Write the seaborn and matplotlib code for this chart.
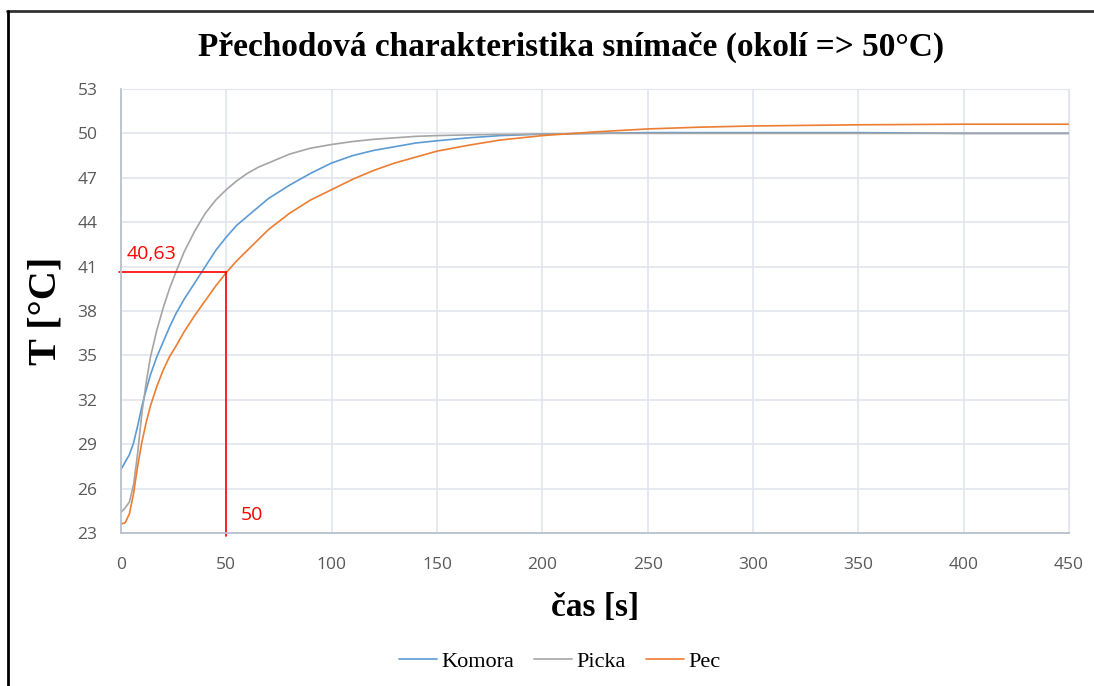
import pandas as pd
import seaborn as sns
import matplotlib.pyplot as plt
from matplotlib.lines import Line2D

# values
time_s = [0, 2, 4, 6, 8, 10, 12, 14, 17, 20, 23, 26, 30, 35, 40, 45, 50, 55, 60,
          65, 70, 80, 90, 100, 110, 120, 130, 140, 150, 165, 180, 200, 225, 250,
          275, 300, 350, 400, 450]
komora = [27.3, 27.8, 28.3, 29.1, 30.3, 31.6, 32.7, 33.7, 34.9, 35.9, 36.9, 37.8,
          38.8, 39.9, 41.0, 42.1, 43.0, 43.8, 44.4, 45.0, 45.6, 46.5, 47.3, 48.0,
          48.5, 48.85, 49.1, 49.35, 49.5, 49.7, 49.85, 49.95, 50.0, 50.05, 50.05,
          50.05, 50.05, 50.0, 50.0]
picka = [24.4, 24.7, 25.1, 26.3, 28.5, 31.2, 33.2, 34.9, 36.7, 38.2, 39.5, 40.6,
         42.0, 43.4, 44.6, 45.5, 46.2, 46.8, 47.3, 47.7, 48.0, 48.6, 49.0, 49.25,
         49.45, 49.6, 49.7, 49.8, 49.85, 49.9, 49.93, 49.95, 50.0, 50.0, 50.0,
         50.0, 50.0, 50.0, 50.0]
pec = [23.6, 23.7, 24.3, 25.7, 27.6, 29.2, 30.5, 31.6, 32.9, 34.0, 34.9, 35.6,
       36.6, 37.7, 38.7, 39.7, 40.6, 41.4, 42.1, 42.8, 43.5, 44.6, 45.5, 46.2,
       46.9, 47.5, 48.0, 48.4, 48.8, 49.2, 49.55, 49.85, 50.1, 50.3, 50.42, 50.5,
       50.58, 50.62, 50.62]
series_names = ["Komora", "Picka", "Pec"]
series_colors = ["#5B9BD5", "#A5A5A5", "#ED7D31"]

mark_t = 50
mark_T = 40.63
y_ticks = list(range(23, 54, 3))
x_ticks = list(range(0, 451, 50))

df = pd.concat([
    pd.DataFrame({"t": time_s, "T": vals, "serie": name})
    for name, vals in zip(series_names, [komora, picka, pec])
])

sns.set_style("white")
plt.rcParams["text.color"] = "black"
plt.rcParams["axes.labelcolor"] = "black"
serif = ["Liberation Serif", "DejaVu Serif"]
tick_font = "Open Sans"

fig = plt.figure(figsize=(10.94, 6.86), dpi=100)
ax = fig.add_axes([0.1106, 0.2230, 0.8665, 0.6473])

sns.lineplot(data=df, x="t", y="T", hue="serie", palette=series_colors,
             hue_order=series_names, linewidth=1.2, ax=ax)

ax.set_xlim(0, 450)
ax.set_ylim(23, 53)
ax.set_xticks(x_ticks)
ax.set_yticks(y_ticks)
ax.grid(True, color="#E1E5EE", linewidth=1.2)
ax.set_axisbelow(True)
for side in ["top", "right"]:
    ax.spines[side].set_color("#E1E5EE")
for side in ["left", "bottom"]:
    ax.spines[side].set_color("#B8C0CE")
    ax.spines[side].set_linewidth(1.3)
ax.tick_params(axis="x", length=0, pad=17, labelsize=12.5, labelcolor="#595959")
ax.tick_params(axis="y", length=0, pad=17, labelsize=12.5, labelcolor="#595959")
for lab in ax.get_xticklabels() + ax.get_yticklabels():
    lab.set_fontfamily(tick_font)

# red marker lines for the time constant
ax.plot([-1, mark_t], [mark_T, mark_T], color="red", linewidth=1.2, clip_on=False)
ax.plot([mark_t, mark_t], [mark_T, 22.8], color="red", linewidth=1.2, clip_on=False)
ax.text(2.5, mark_T + 0.9, "40,63", color="red", fontsize=14, family=tick_font)
ax.text(mark_t + 7, 23.9, "50", color="red", fontsize=14, family=tick_font)

fig.text(0.522, 0.931, "Přechodová charakteristika snímače (okolí => 50°C)",
         fontsize=24, fontweight="bold", family=serif, ha="center", va="center",
         color="black")
ax.set_xlabel("čas [s]", fontsize=24, fontweight="bold", family=serif, labelpad=14)
ax.set_ylabel("T [°C]", fontsize=29, fontweight="bold", family=serif, labelpad=9)

ax.legend(loc="upper center", bbox_to_anchor=(0.463, -0.222), ncol=3, frameon=False,
          prop={"family": serif, "size": 16}, handlelength=1.7, handletextpad=0.2,
          columnspacing=0.9)

# frame of the original screenshot
fig.add_artist(Line2D([0.0064, 1.0], [0.984, 0.984], color="#333333", linewidth=2))
fig.add_artist(Line2D([0.0073, 0.0073], [0.0, 0.984], color="black", linewidth=2))

fig.savefig("out.png", dpi=100)
